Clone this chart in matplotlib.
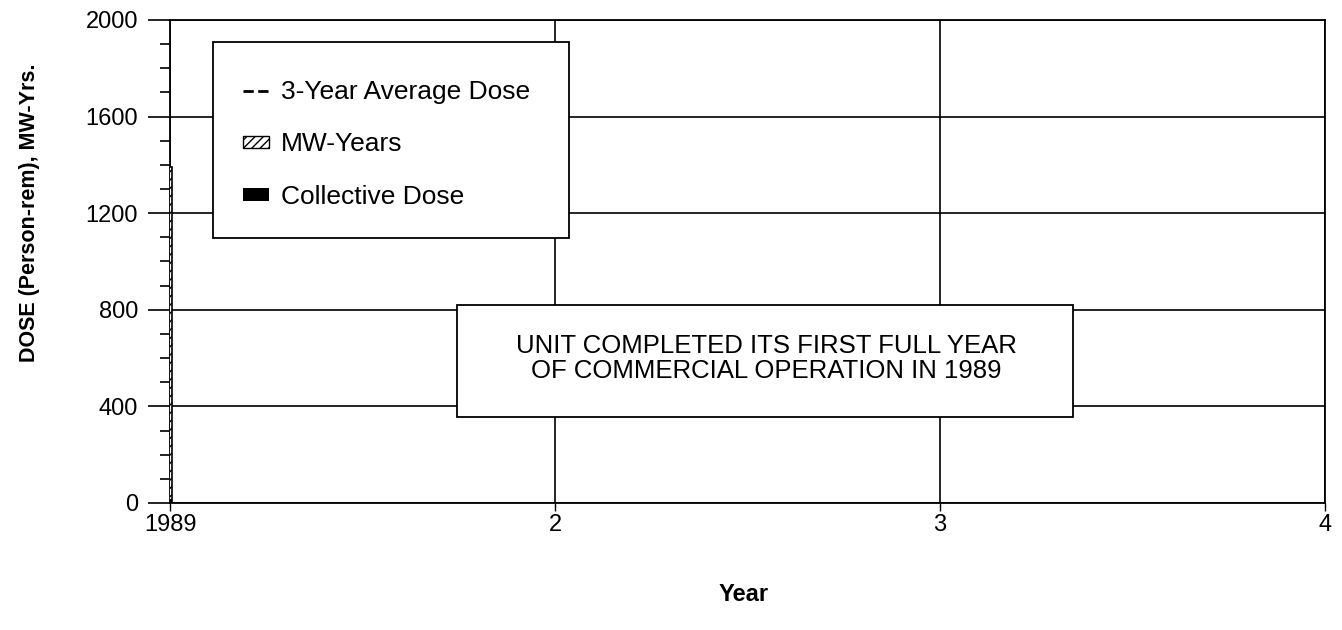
import matplotlib.pyplot as plt
import matplotlib.patches as mpatches
from matplotlib.lines import Line2D
import numpy as np

plt.rcParams['font.family'] = ['Liberation Sans', 'DejaVu Sans']

# --- data -------------------------------------------------
years = [1]
year_labels = ['1989', '2', '3', '4']
mw_years = [1390]
collective_dose = [15]
avg_dose = [15]

fig = plt.figure(figsize=(13.42, 6.30), dpi=100)
ax = fig.add_axes([0.1267, 0.2016, 0.8607, 0.7667])

# bars (very narrow, as in the original)
ax.bar(years, mw_years, width=0.012, facecolor='white', edgecolor='black',
       hatch='////', linewidth=1.2, zorder=3)
ax.bar(years, collective_dose, width=0.012, color='black', zorder=3)
ax.plot(years, avg_dose, color='black', linestyle='--', linewidth=1.2, zorder=4)

ax.set_xlim(1, 4)
ax.set_ylim(0, 2000)
ax.set_xticks([1, 2, 3, 4])
ax.set_xticklabels(year_labels)
ax.set_yticks(np.arange(0, 2001, 400))
ax.set_yticks(np.arange(0, 2001, 100), minor=True)

ax.grid(True, which='major', color='black', linewidth=1.2, zorder=0)
ax.tick_params(axis='y', which='major', direction='out', length=16, width=1.2,
               labelsize=17, pad=7)
ax.tick_params(axis='y', which='minor', direction='out', length=7.5, width=1.2)
ax.tick_params(axis='x', which='major', direction='out', length=6, width=1,
               labelsize=17, pad=2)
for s in ax.spines.values():
    s.set_linewidth(1.3)

ax.set_xlabel('Year', fontsize=17, fontweight='bold')
ax.xaxis.set_label_coords(0.497, -0.166)
ax.set_ylabel('DOSE (Person-rem), MW-Yrs.', fontsize=15.5, fontweight='bold')
ax.yaxis.set_label_coords(-0.113, 0.60)

# legend box
ax.add_patch(mpatches.Rectangle((0.037, 0.549), 0.308, 0.405, transform=ax.transAxes,
                                facecolor='white', edgecolor='black', linewidth=1.3, zorder=5))
handles = [Line2D([0], [0], color='black', linestyle='--', linewidth=2),
           mpatches.Patch(facecolor='white', edgecolor='black', hatch='////'),
           mpatches.Patch(facecolor='black')]
labels = ['3-Year Average Dose', 'MW-Years', 'Collective Dose']
leg = ax.legend(handles, labels, loc='upper left', bbox_to_anchor=(0.054, 0.898),
                frameon=False, fontsize=19, handlelength=1.0, handleheight=0.35,
                handletextpad=0.45, labelspacing=1.08, borderaxespad=0)
leg.set_zorder(6)

# note box
ax.add_patch(mpatches.Rectangle((0.2485, 0.178), 0.5333, 0.232, transform=ax.transAxes,
                                facecolor='white', edgecolor='black', linewidth=1.3, zorder=5))
ax.text(0.5165, 0.299, 'UNIT COMPLETED ITS FIRST FULL YEAR\nOF COMMERCIAL OPERATION IN 1989',
        transform=ax.transAxes, ha='center', va='center', fontsize=18.5,
        linespacing=1.08, zorder=6)

fig.savefig('out.png', dpi=100)
